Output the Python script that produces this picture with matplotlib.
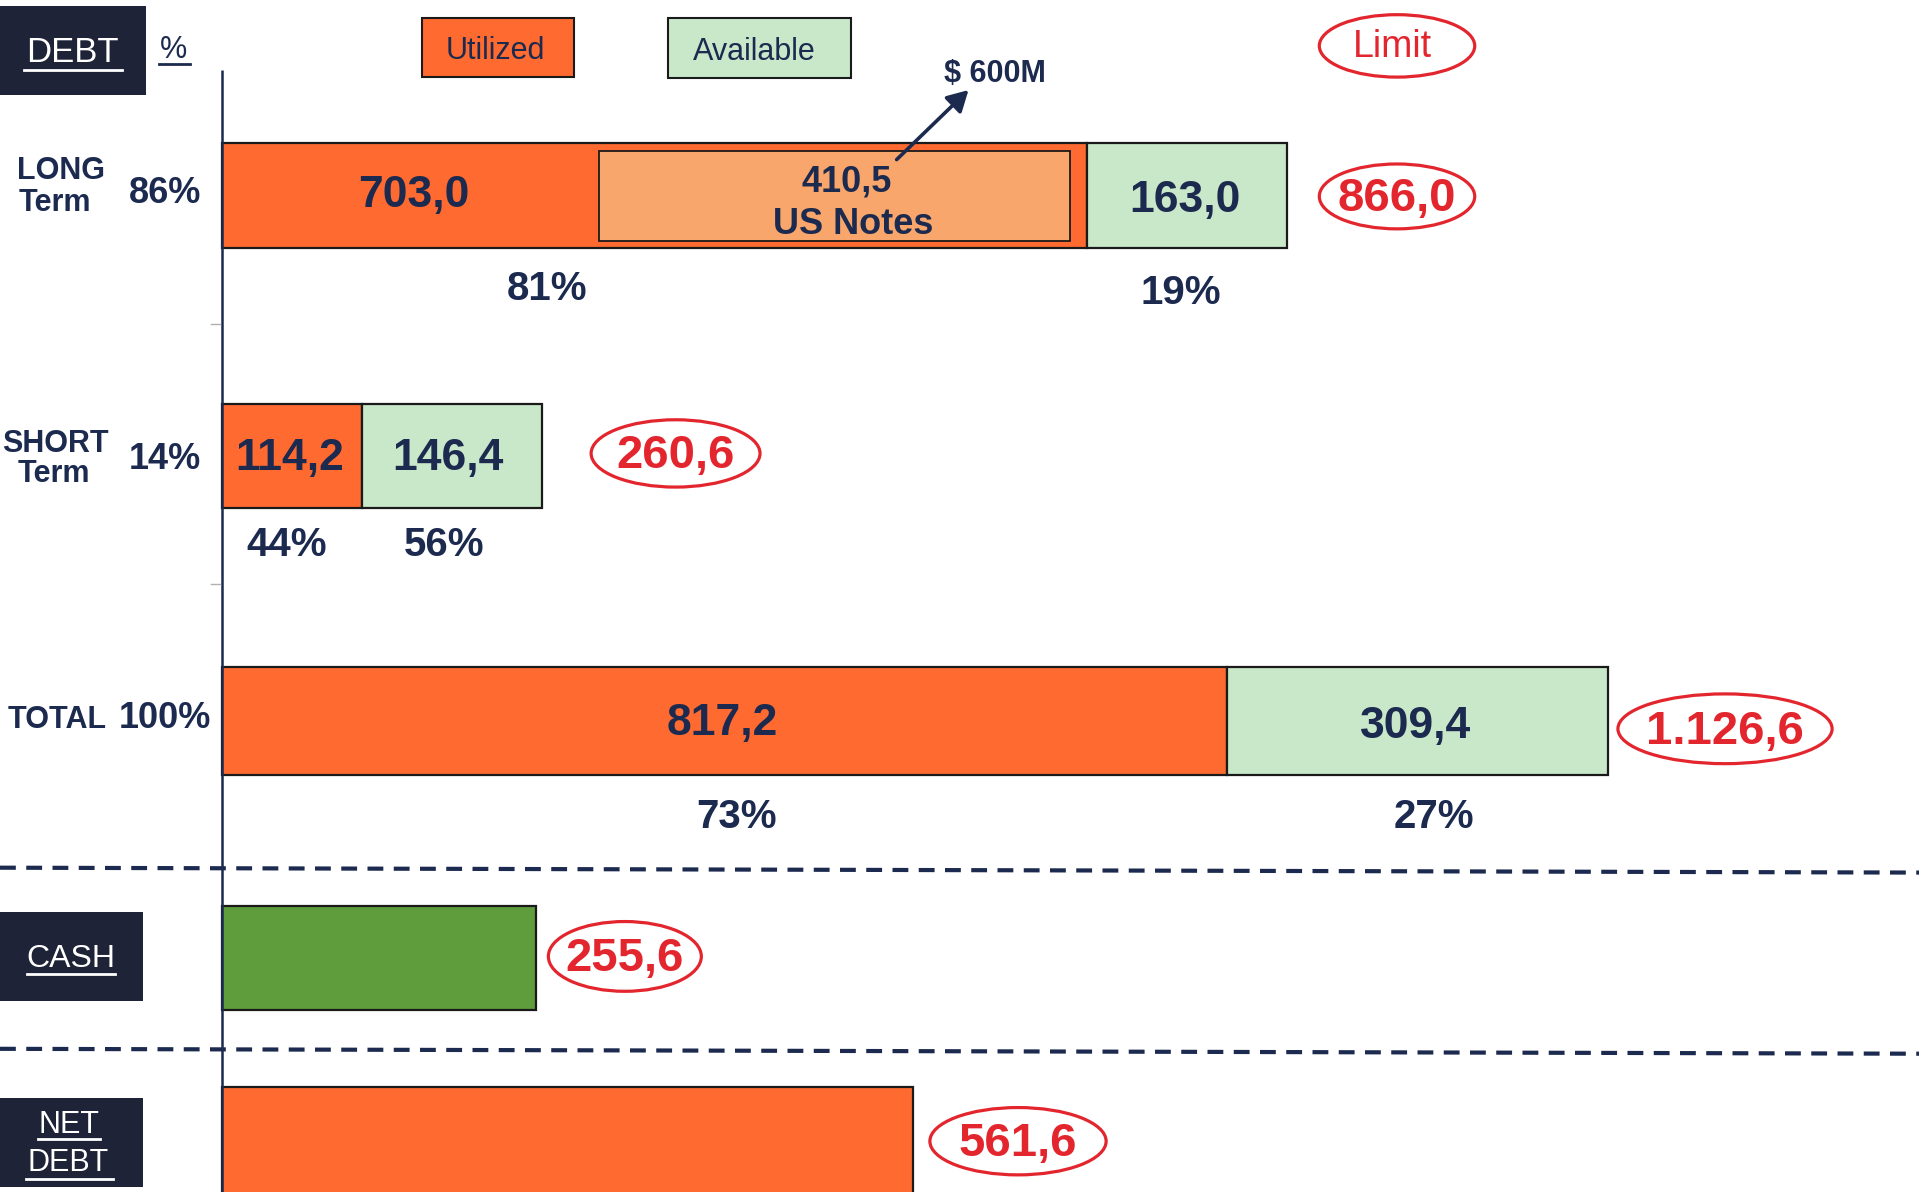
import matplotlib
matplotlib.use("Agg")
import matplotlib.pyplot as plt
from matplotlib.patches import Rectangle, Ellipse, FancyArrowPatch
from matplotlib.lines import Line2D

plt.rcParams['font.family'] = ['Liberation Sans', 'DejaVu Sans']

# ---------------- data ----------------
categories = ["LONG\nTerm", "SHORT\nTerm", "TOTAL"]
share_pct = ["86%", "14%", "100%"]
utilized = [703.0, 114.2, 817.2]
available = [163.0, 146.4, 309.4]
limits = [866.0, 260.6, 1126.6]
util_pct = ["81%", "44%", "73%"]
avail_pct = ["19%", "56%", "27%"]
us_notes = 410.5
us_notes_cap = "$ 600M"
cash = 255.6
net_debt = 561.6

def fmt(v):
    s = f"{v:,.1f}"
    return s.replace(",", "X").replace(".", ",").replace("X", ".")

# ---------------- colours ----------------
ORANGE = "#FF6A30"
LGREEN = "#C9E7C9"
NOTES = "#F9A66C"
CASHG = "#5F9C3B"
NAVY = "#1B2A4E"
BOX = "#1E2337"
RED = "#E3262E"
EDGE = "#1a1a1a"

W, H = 1568.0, 974.0  # layout units (scaled reference pixels)
DY = 2.5              # small text baseline correction

fig = plt.figure(figsize=(19.19, 11.92), dpi=100)
fig.patch.set_facecolor("white")
ax = fig.add_axes([0, 0, 1, 1])
ax.axis("off")
k = 1.0057          # px per unit
x0 = 181.0          # axis position
ax.set_xlim(-x0 / k, (W - x0) / k)
ax.set_ylim(H, 0)

def F(x, y):
    return (x / W, 1 - y / H)

def ftext(x, y, s, size, color=NAVY, weight="bold", **kw):
    fig.text(x / W, 1 - (y + DY) / H, s, fontsize=size, color=color, weight=weight,
             ha=kw.pop("ha", "center"), va=kw.pop("va", "center"), **kw)

def fline(x1, y1, x2, y2, **kw):
    fig.add_artist(Line2D([x1 / W, x2 / W], [1 - y1 / H, 1 - y2 / H],
                          transform=fig.transFigure, **kw))

def frect(x1, y1, x2, y2, fc, ec=None, lw=0):
    fig.add_artist(Rectangle((x1 / W, 1 - y2 / H), (x2 - x1) / W, (y2 - y1) / H,
                             transform=fig.transFigure, facecolor=fc,
                             edgecolor=ec if ec else fc, linewidth=lw))

def fellipse(cx, cy, w, h):
    fig.add_artist(Ellipse((cx / W, 1 - cy / H), w / W, h / H,
                           transform=fig.transFigure, facecolor="none",
                           edgecolor=RED, linewidth=2.3))

# ---------------- bars ----------------
bar_y = [160, 372.5, 589]
bar_h = [86, 85, 88]
ax.barh(bar_y, utilized, height=bar_h, color=ORANGE, edgecolor=EDGE, linewidth=1.6, zorder=2)
ax.barh(bar_y, available, left=utilized, height=bar_h, color=LGREEN, edgecolor=EDGE,
        linewidth=1.6, zorder=2)

# US notes inset inside the long-term utilized bar
m = 14
ax.barh(bar_y[0], us_notes - 2 * m, left=utilized[0] - us_notes + m, height=74,
        color=NOTES, edgecolor=EDGE, linewidth=1.3, zorder=3)

# cash and net debt
ax.barh(782.5, cash, height=85, color=CASHG, edgecolor=EDGE, linewidth=1.6, zorder=2)
ax.barh(935, net_debt, height=94, color=ORANGE, edgecolor=EDGE, linewidth=1.6, zorder=2)

# vertical axis
ax.plot([0, 0], [57, H], color=NAVY, lw=1.8, zorder=4, solid_capstyle="butt")
for ty in (265, 477):
    fline(172, ty, 180, ty, color="#b0b0b0", lw=1.0)

# dashed separators
fline(0, 709, W, 713, color=NAVY, lw=3.0, linestyle=(0, (3.8, 2.5)))
fline(0, 857, W, 861, color=NAVY, lw=3.0, linestyle=(0, (3.8, 2.5)))

# ---------------- labels ----------------
# dark header boxes
frect(0, 5, 119, 78, BOX)
ftext(59, 40, "DEBT", 25, color="white", weight="normal")
fline(20, 57, 100, 57, color="white", lw=2)
ftext(142, 38, "%", 22, weight="normal")
fline(130, 52, 155, 52, color=NAVY, lw=2)

frect(0, 745, 117, 818, BOX)
ftext(58, 781, "CASH", 23, color="white", weight="normal")
fline(22, 796, 94, 796, color="white", lw=2)

frect(0, 897, 117, 970, BOX)
ftext(56, 917, "NET", 22, color="white", weight="normal")
fline(31, 931, 82, 931, color="white", lw=2)
ftext(56, 948, "DEBT", 22, color="white", weight="normal")
fline(21, 963, 92, 963, color="white", lw=2)

# legend
frect(345, 15, 469, 63, ORANGE, EDGE, 1.5)
ftext(405, 39, "Utilized", 22, weight="normal")
frect(546, 15, 695, 64, LGREEN, EDGE, 1.5)
ftext(616, 40, "Available", 22, weight="normal")
fellipse(1141.5, 37.5, 127, 51)
ftext(1138, 36, "Limit", 27, color=RED, weight="normal")

# category labels
cat_pos = [(50, 137, 45, 163), (45, 360, 44, 385)]
for (xa, ya, xb, yb), cat in zip(cat_pos, categories[:2]):
    a, b = cat.split("\n")
    ftext(xa, ya, a, 22)
    ftext(xb, yb, b, 22)
ftext(47, 586, categories[2], 22)
for (px, py), s in zip([(135, 156), (135, 373), (135, 585)], share_pct):
    ftext(px, py, s, 26)

# values inside bars
ftext(338, 157, fmt(utilized[0]), 32)
ftext(692, 146, fmt(us_notes), 26)
ftext(697, 181, "US Notes", 26)
ftext(968, 161, fmt(available[0]), 32)
ftext(237, 372, fmt(utilized[1]), 32)
ftext(366, 372, fmt(available[1]), 32)
ftext(590, 589, fmt(utilized[2]), 32)
ftext(1157, 591, fmt(available[2]), 32)

# percentages below bars
for (px, py), s in zip([(447, 234), (234, 443), (602, 665)], util_pct):
    ftext(px, py, s, 29)
for (px, py), s in zip([(965, 237), (363, 443), (1172, 665)], avail_pct):
    ftext(px, py, s, 29)

# limit ellipses
lim_pos = [(1141.5, 160.5, 127, 53), (552, 370.5, 138, 55), (1409.5, 595.5, 175, 57)]
for (cx, cy, w, h), v in zip(lim_pos, limits):
    fellipse(cx, cy, w, h)
    ftext(cx, cy, fmt(v), 34, color=RED)

# cash / net debt ellipses placed just after the bar ends
for val, cy, w, h, gap in [(cash, 781.5, 125, 57, 10), (net_debt, 932.5, 144, 55, 14)]:
    cx = x0 + val * k + gap + w / 2
    fellipse(cx, cy, w, h)
    ftext(cx, cy, fmt(val), 34, color=RED)

# $600M callout
ftext(813, 58, us_notes_cap, 22)
arr = FancyArrowPatch(F(731, 132), F(793, 72), transform=fig.transFigure,
                      arrowstyle="-|>,head_length=0.9,head_width=0.5",
                      mutation_scale=14, color=NAVY, lw=2.6)
fig.add_artist(arr)

fig.savefig("out.png", dpi=100, facecolor="white")
